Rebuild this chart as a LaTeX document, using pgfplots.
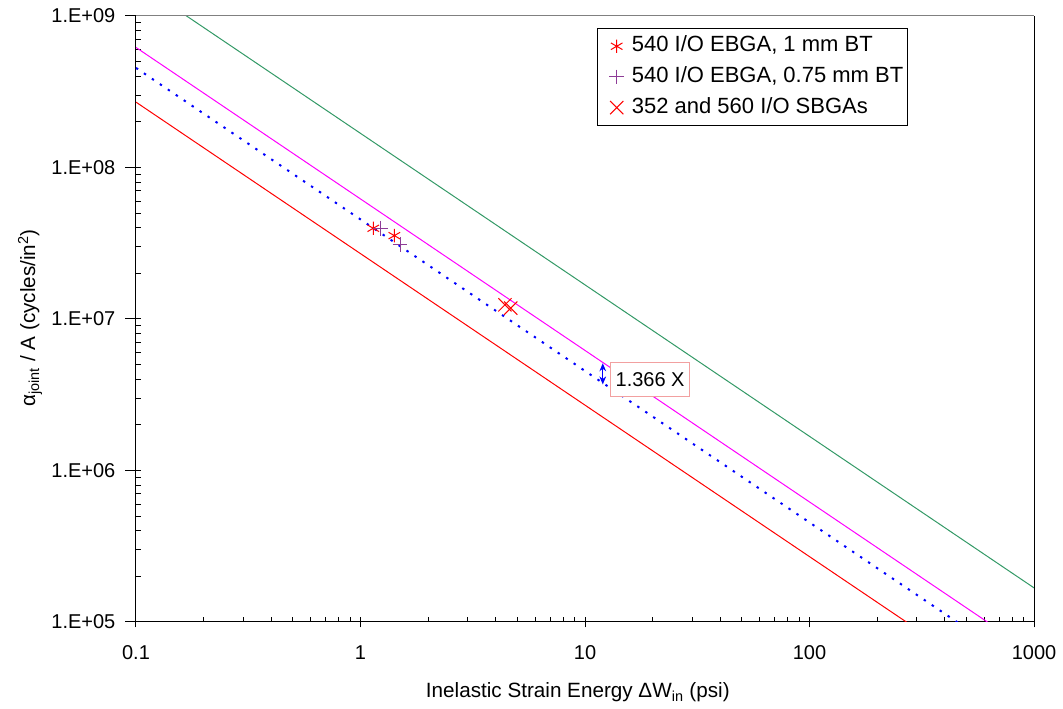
\documentclass[border=0pt]{standalone}
\usepackage{fontspec}
\setmainfont{Liberation Sans}
\usepackage{pgfplots}
\pgfplotsset{compat=1.18}
\usetikzlibrary{arrows.meta}
\definecolor{xlgreen}{HTML}{339966}
\definecolor{xlmag}{HTML}{FF00FF}
\definecolor{xlblue}{HTML}{0000FF}
\definecolor{xlred}{HTML}{FF0000}
\definecolor{xlpurp}{HTML}{8E3C97}
\definecolor{boxedge}{HTML}{F2A0A0}
\definecolor{topline}{HTML}{808080}
\newcommand{\tickfont}{\fontsize{15}{18}\selectfont}
\newcommand{\chartfont}{\fontsize{15.5}{18.5}\selectfont}
\newcommand{\legfont}{\fontsize{16.5}{19.5}\selectfont}

\begin{document}
\begin{tikzpicture}
\begin{loglogaxis}[
  width=673.5pt, height=454.5pt, scale only axis,
  xmin=0.1, xmax=1000, ymin=1e5, ymax=1e9,
  axis lines*=left, axis line style={black, line width=0.75pt},
  xtick={0.1,1,10,100,1000}, xticklabels={0.1,1,10,100,1000},
  ytick={1e5,1e6,1e7,1e8,1e9},
  yticklabels={1.E+05,1.E+06,1.E+07,1.E+08,1.E+09},
  tick label style={font=\tickfont},
  xticklabel style={yshift=-10pt},
  yticklabel style={xshift=-4pt},
  xtick align=center, ytick align=outside,
  major tick length=8pt, minor tick length=4pt,
  minor x tick style={yshift=2pt},
  minor y tick style={xshift=4pt},
  tick style={black, line width=0.75pt},
  xlabel={Inelastic Strain Energy ΔW\textsubscript{in} (psi)},
  ylabel={α\textsubscript{joint} / A (cycles/in\textsuperscript{2})},
  label style={font=\chartfont},
  xlabel style={at={(axis description cs:0.492,-0.1155)}, anchor=center},
  ylabel style={at={(axis description cs:-0.118,0.5017)}, anchor=center},
  legend style={at={(rel axis cs:0.5134,0.980)}, anchor=north west,
    draw=black, line width=0.75pt, font=\legfont, row sep=3.5pt,
    inner xsep=2pt, inner ysep=3.5pt,
    nodes={text height=12pt, text depth=3.5pt, inner xsep=1pt}},
  legend cell align=left,
  legend image code/.code={\path (0pt,0pt) (22pt,0pt);
    \draw[#1] plot coordinates {(12pt,0pt)};},
]
% fitted lines, slope -1
\addplot[xlgreen, line width=0.75pt, forget plot] coordinates {(0.1,1.68e9) (1000,1.68e5)};
\addplot[xlmag, line width=0.75pt, forget plot] coordinates {(0.1,6.2e8) (1000,6.2e4)};
\addplot[xlblue, line width=1.5pt, dash pattern=on 1.8pt off 5.4pt, forget plot] coordinates {(0.1,4.54e8) (1000,4.54e4)};
\addplot[xlred, line width=0.75pt, forget plot] coordinates {(0.1,2.7e8) (1000,2.7e4)};
% test data
\addplot[only marks, mark=asterisk, mark size=5pt, xlred, line width=0.75pt]
  coordinates {(1.14,3.97e7) (1.415,3.55e7)};
\addlegendentry{540 I/O EBGA, 1 mm BT}
\addplot[only marks, mark=+, mark size=5.5pt, xlpurp, line width=0.75pt]
  coordinates {(1.23,3.97e7) (1.50,3.11e7)};
\addlegendentry{540 I/O EBGA, 0.75 mm BT}
\addplot[only marks, mark=x, mark size=7pt, xlred, line width=0.75pt]
  coordinates {(4.40,1.24e7) (4.67,1.18e7)};
\addlegendentry{352 and 560 I/O SBGAs}
\draw[xlblue, line width=0.75pt, {Stealth[length=6pt,width=5pt]}-{Stealth[length=6pt,width=5pt]}]
  (axis cs:12,5.1e6) -- (axis cs:12,3.7e6);
\node[draw=boxedge, fill=white, anchor=west, minimum width=58.5pt, minimum height=26pt,
  inner xsep=4pt, font=\tickfont, line width=0.75pt] at (axis cs:12.9,3.99e6) {1.366 X};
\coordinate (tl) at (rel axis cs:0,1);
\coordinate (tr) at (rel axis cs:1,1);
\coordinate (br) at (rel axis cs:1,0);
\end{loglogaxis}
\draw[topline, line width=0.75pt] (tl) -- (tr);
\draw[black, line width=0.75pt] (br) -- (tr);
\pgfresetboundingbox
\path[use as bounding box] (-102pt,-65.25pt) rectangle (695.25pt,466.5pt);
\end{tikzpicture}
\end{document}
